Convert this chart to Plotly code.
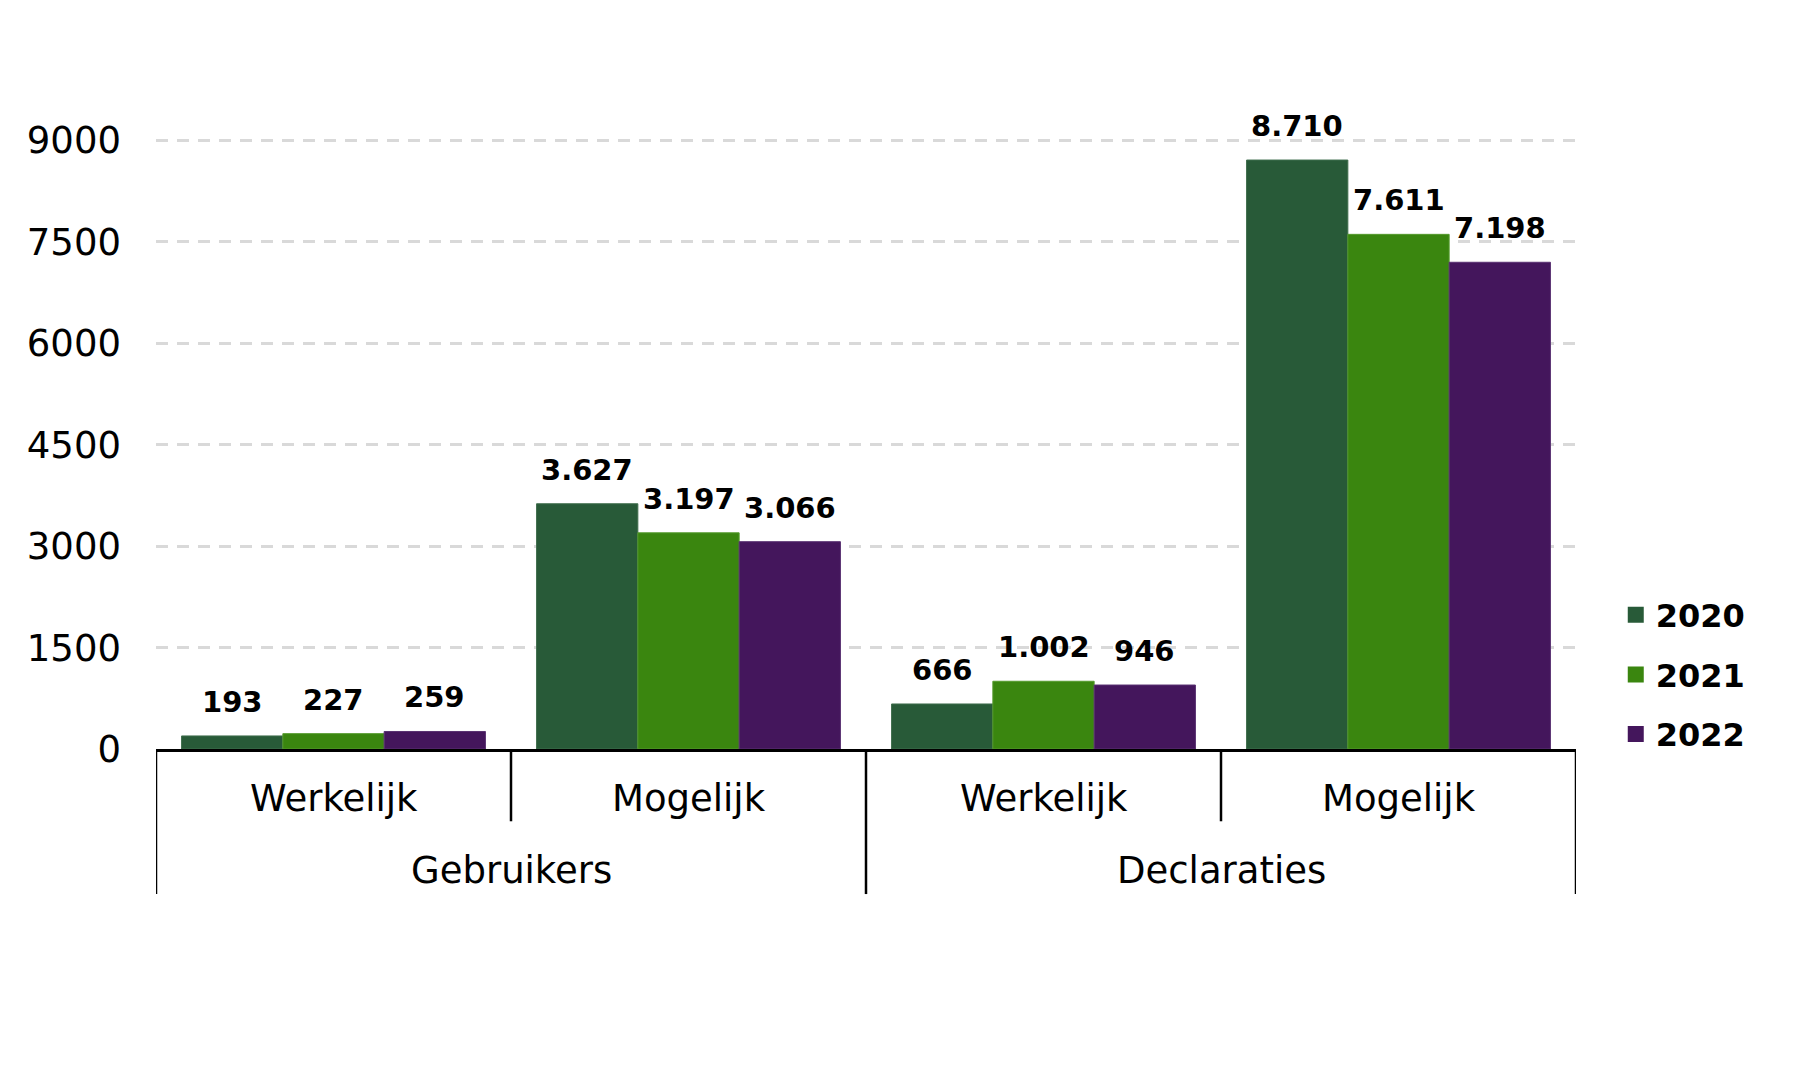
import plotly.graph_objects as go

# ---- data ----
groups = ["Gebruikers", "Gebruikers", "Declaraties", "Declaraties"]
subcats = ["Werkelijk", "Mogelijk", "Werkelijk", "Mogelijk"]
years = ["2020", "2021", "2022"]
v2020 = [193, 3627, 666, 8710]
v2021 = [227, 3197, 1002, 7611]
v2022 = [259, 3066, 946, 7198]
yticks = [0, 1500, 3000, 4500, 6000, 7500, 9000]

colors = ["#285A38", "#3A860F", "#44165C"]
edge_colors = ["#3F6E4D", "#559A2E", "#5A3272"]
FONT = "DejaVu Sans, Verdana, sans-serif"
W, H = 1812, 1078
BARGAP = 0.144

xpos = list(range(len(subcats)))
series = [v2020, v2021, v2022]

fig = go.Figure()
for name, vals, col, ecol in zip(years, series, colors, edge_colors):
    fig.add_trace(go.Bar(x=xpos, y=vals, name=name, marker_color=col,
                         marker_line=dict(width=1, color=ecol),
                         showlegend=False, hoverinfo="y"))
# legend entries (square swatches)
for name, col in zip(years, colors):
    fig.add_trace(go.Scatter(x=[None], y=[None], mode="markers", name=name,
                             legendgroup=name,
                             marker=dict(symbol="square", size=18, color=col)))

# value labels above bars
bw = (1 - BARGAP) / len(series)
for k, vals in enumerate(series):
    off = (k - (len(series) - 1) / 2) * bw
    for i, v in enumerate(vals):
        fig.add_annotation(x=xpos[i] + off, y=v, xref="x", yref="y",
                           text=f"{v:,}".replace(",", "."), showarrow=False,
                           yanchor="bottom", yshift=15,
                           font=dict(family=FONT, size=29, color="black", weight="bold"))

# category labels (inner level)
for i, s in enumerate(subcats):
    fig.add_annotation(x=xpos[i], y=-0.0695, xref="x", yref="paper", text=s,
                       showarrow=False, yanchor="middle",
                       font=dict(family=FONT, size=37, color="black"))
# outer group labels
seen = []
for g in groups:
    if g not in seen:
        seen.append(g)
for g in seen:
    idx = [i for i, gg in enumerate(groups) if gg == g]
    fig.add_annotation(x=(idx[0] + idx[-1]) / 2, y=-0.1705, xref="x", yref="paper",
                       text=g, showarrow=False, yanchor="middle",
                       font=dict(family=FONT, size=37, color="black"))

# divider lines
for i in range(len(subcats) + 1):
    xb = i - 0.5
    is_outer = (i == 0 or i == len(subcats) or groups[i] != groups[i - 1])
    fig.add_shape(type="line", xref="x", yref="paper", x0=xb, x1=xb,
                  y0=0, y1=-0.2043 if is_outer else -0.1018,
                  line=dict(color="black", width=2.5))

plot_left, plot_width, plot_top, plot_height = 148, 1420, 31, 710
fig.update_layout(
    width=W, height=H,
    margin=dict(l=plot_left, r=W - plot_left - plot_width, t=plot_top,
                b=H - plot_top - plot_height, pad=0),
    paper_bgcolor="white", plot_bgcolor="white",
    barmode="group", bargap=BARGAP, bargroupgap=0,
    font=dict(family=FONT, color="black"),
    xaxis=dict(range=[-0.5, len(subcats) - 0.5], showticklabels=False, showgrid=False,
               zeroline=False, showline=True, linecolor="black", linewidth=2.5,
               ticks=""),
    yaxis=dict(range=[0, 10500], tickvals=yticks, ticktext=[str(t) for t in yticks],
               showgrid=True, gridcolor="#D9D9D9", gridwidth=2.5, griddash="12px,9px",
               zeroline=False, showline=False, ticks="", ticklabelstandoff=34,
               tickfont=dict(family=FONT, size=37, color="black")),
    legend=dict(x=1.028, xanchor="left", y=0.2275, yanchor="top",
                traceorder="grouped", tracegroupgap=15,
                font=dict(family=FONT, size=32, color="black", weight="bold"),
                bgcolor="rgba(0,0,0,0)", borderwidth=0),
    showlegend=True,
)

fig.write_html("out.html")
